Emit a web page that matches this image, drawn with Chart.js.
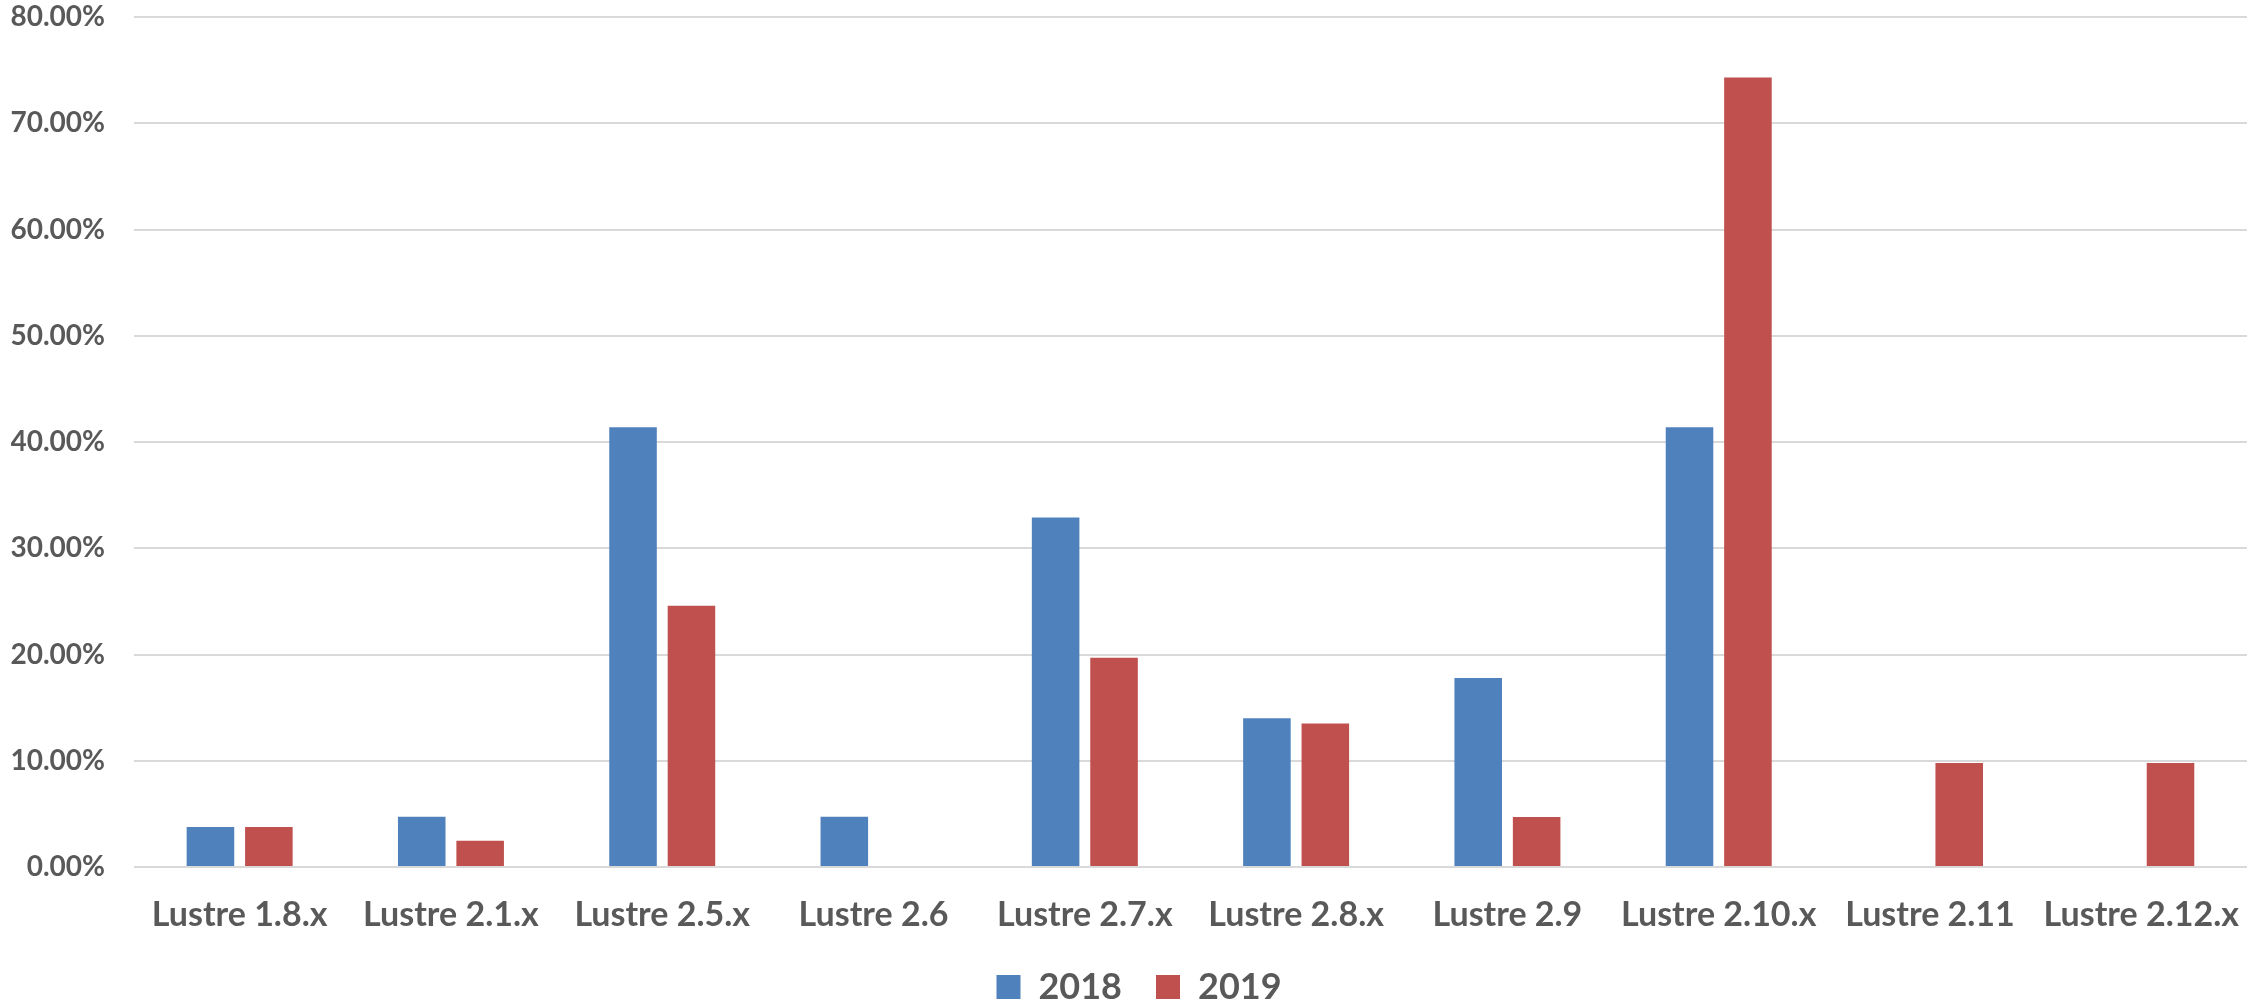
<!DOCTYPE html>
<html>
<head>
<meta charset="utf-8">
<script src="https://cdn.jsdelivr.net/npm/chart.js@4/dist/chart.umd.min.js"></script>
<style>
  html, body { margin: 0; padding: 0; background: #fff; }
  #wrap { width: 2267px; height: 1003px; }
</style>
</head>
<body>
<div id="wrap"><canvas id="myChart"></canvas></div>
<script>
// categories + values (percent)
const versions = ["Lustre 1.8.x", "Lustre 2.1.x", "Lustre 2.5.x", "Lustre 2.6", "Lustre 2.7.x",
  "Lustre 2.8.x", "Lustre 2.9", "Lustre 2.10.x", "Lustre 2.11", "Lustre 2.12.x"];
const share2018 = [3.77, 4.72, 41.4, 4.72, 32.9, 14.0, 17.8, 41.4, 0, 0];
const share2019 = [3.77, 2.46, 24.6, 0, 19.7, 13.5, 4.7, 74.3, 9.8, 9.8];
const yTicks = [0, 10, 20, 30, 40, 50, 60, 70, 80];

const txt = '#595959';
const fam = 'Lato, "Open Sans", sans-serif';

let ctx = document.getElementById('myChart');
let myBarChart = new Chart(ctx, {
  type: 'bar',
  data: {
    labels: versions,
    datasets: [
      {label: '2018', data: share2018, backgroundColor: '#4F81BD'},
      {label: '2019', data: share2019, backgroundColor: '#C0504D'}
    ]
  },
  options: {
    responsive: true,
    maintainAspectRatio: false,
    animation: false,
    categoryPercentage: 0.553,
    barPercentage: 0.814,
    layout: {padding: {top: 17, right: 0, bottom: -12, left: 11}},
    plugins: {
      tooltip: {enabled: false},
      legend: {
        position: 'bottom',
        labels: {
          color: txt,
          font: {family: fam, size: 36, weight: 'bold'},
          boxWidth: 24,
          boxHeight: 24,
          padding: 34
        }
      }
    },
    scales: {
      x: {
        grid: {display: false, drawTicks: false},
        border: {display: false},
        afterFit: function(scale) { scale.height = 68; },
        ticks: {color: txt, font: {family: fam, size: 34, weight: 'bold'}, padding: 28, maxRotation: 0, autoSkip: false}
      },
      y: {
        min: 0,
        max: 80,
        afterBuildTicks: function(axis) {
          axis.ticks = yTicks.map(function(v) { return {value: v}; });
        },
        // top label may overhang, plot starts right at the padding
        afterFit: function(scale) { scale.paddingTop = 0; scale.width = 123; },
        grid: {color: '#D9D9D9', lineWidth: 2, drawTicks: false},
        border: {display: false},
        ticks: {
          color: txt,
          font: {family: fam, size: 28, weight: 'bold'},
          padding: 29,
          callback: function(v) { return v.toFixed(2) + '%'; }
        }
      }
    }
  }
});
</script>
</body>
</html>
